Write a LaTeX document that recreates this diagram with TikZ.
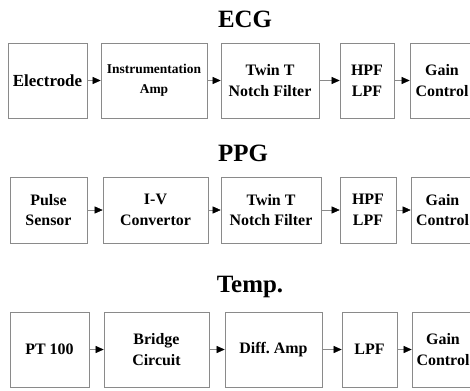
\documentclass[tikz,border=0pt]{standalone}
\usepackage{fontspec}
\setmainfont{Liberation Serif}
\usetikzlibrary{arrows.meta}
\definecolor{boxgray}{HTML}{8A8A8A}
\tikzset{
  stage/.style  ={draw=boxgray, line width=0.6pt, inner sep=0pt, align=center,
                  font=\fontsize{16}{21}\selectfont\bfseries},
  heading/.style={font=\fontsize{25}{28}\selectfont\bfseries},
  sig/.style    ={-{Triangle[length=8bp,width=7bp,color=black]}, draw=boxgray, line width=0.5pt},
}
\begin{document}
\begin{tikzpicture}[x=1bp,y=-1bp]
    \useasboundingbox (0,0) rectangle (470,390);
    % --- ECG chain ---
    \node[heading] (ecg) at (245,19) {ECG};
    \node[stage,minimum width=79bp,minimum height=75bp,font=\fontsize{17}{21}\selectfont\bfseries] (e1) at (47.5,80.5) {Electrode};
    \node[stage,minimum width=106bp,minimum height=75bp,font=\fontsize{13.5}{20}\selectfont\bfseries] (e2) at (154,80.5) {Instrumentation\\Amp};
    \node[stage,minimum width=98bp,minimum height=75bp] (e3) at (270,80.5) {Twin T\\Notch Filter};
    \node[stage,minimum width=54bp,minimum height=75bp] (e4) at (367,80.5) {HPF\\LPF};
    \node[stage,minimum width=64bp,minimum height=75bp] (e5) at (442,80.5) {Gain\\Control};
    % --- PPG chain ---
    \node[heading] (ppg) at (243,153) {PPG};
    \node[stage,minimum width=77bp,minimum height=66bp] (p1) at (48.5,210) {Pulse\\Sensor};
    \node[stage,minimum width=105bp,minimum height=66bp] (p2) at (155.5,210) {I-V\\Convertor};
    \node[stage,minimum width=100bp,minimum height=66bp] (p3) at (271,210) {Twin T\\Notch Filter};
    \node[stage,minimum width=56bp,minimum height=66bp] (p4) at (368,210) {HPF\\LPF};
    \node[stage,minimum width=63bp,minimum height=66bp] (p5) at (442.5,210) {Gain\\Control};
    % --- Temp. chain ---
    \node[heading] (tmp) at (250,287) {Temp.};
    \node[stage,minimum width=79bp,minimum height=75bp] (t1) at (49.5,349.5) {PT 100};
    \node[stage,minimum width=105bp,minimum height=75bp] (t2) at (156.5,349.5) {Bridge\\Circuit};
    \node[stage,minimum width=97bp,minimum height=75bp] (t3) at (273.5,349.5) {Diff.\ Amp};
    \node[stage,minimum width=55bp,minimum height=75bp] (t4) at (369.5,349.5) {LPF};
    \node[stage,minimum width=62bp,minimum height=75bp] (t5) at (443,349.5) {Gain\\Control};
    \foreach \a/\b in {e1/e2,e2/e3,e3/e4,e4/e5,p1/p2,p2/p3,p3/p4,p4/p5,t1/t2,t2/t3,t3/t4,t4/t5}
      \draw[sig] (\a) -- (\b);
\end{tikzpicture}
\end{document}
